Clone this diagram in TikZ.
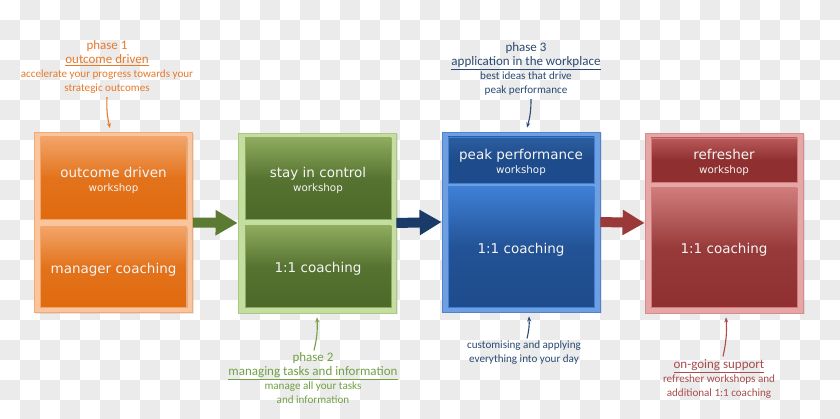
\documentclass[tikz,border=0pt]{standalone}
\usepackage{fontspec}
\setmainfont{DejaVu Sans}
\newfontfamily\calib{Carlito}
\usepackage{xcolor}
\usetikzlibrary{arrows.meta,shadows}
% colour sets: Frame / Edge / Top / Bot / Arrow / Text
\definecolor{orFrame}{HTML}{FAC59C}
\definecolor{orEdge}{HTML}{F2AA74}
\definecolor{orTop}{HTML}{F2A468}
\definecolor{orBot}{HTML}{E06A0E}
\definecolor{orText}{HTML}{E87A2C}
\definecolor{grFrame}{HTML}{C4DDA0}
\definecolor{grEdge}{HTML}{A9C983}
\definecolor{grTop}{HTML}{8EAB5E}
\definecolor{grBot}{HTML}{4D6929}
\definecolor{grArrow}{HTML}{5B7A32}
\definecolor{grText}{HTML}{72A046}
\definecolor{blFrame}{HTML}{6D9FE2}
\definecolor{blEdge}{HTML}{4F84CC}
\definecolor{blTop}{HTML}{3E80D6}
\definecolor{blBot}{HTML}{1E4B8B}
\definecolor{blHeadTop}{HTML}{2C5EA0}
\definecolor{blArrow}{HTML}{1A3A68}
\definecolor{blText}{HTML}{2A4A72}
\definecolor{rdFrame}{HTML}{E6A6A6}
\definecolor{rdEdge}{HTML}{D48C8C}
\definecolor{rdTop}{HTML}{D07C7C}
\definecolor{rdBot}{HTML}{8F2F2F}
\definecolor{rdHeadTop}{HTML}{BA5A5A}
\definecolor{rdArrow}{HTML}{9B3838}
\definecolor{rdText}{HTML}{A84C4C}
\definecolor{chk}{HTML}{EBEBEB}
\newcommand{\wkline}{{\fontsize{10.3}{12}\selectfont workshop}}
\newcommand{\headline}[1]{{\fontsize{13}{14}\selectfont #1}}
\newcommand{\lift}{\rule{0pt}{15pt}}

\begin{document}
\begin{tikzpicture}[x=1pt,y=-1pt,
  frame/.style={draw=#1Edge,fill=#1Frame,line width=0.8pt,minimum width=158pt,
                minimum height=180pt,inner sep=0pt,
                drop shadow={opacity=0.18,shadow xshift=1.5pt,shadow yshift=-1.5pt}},
  panel/.style={draw=#1Top,line width=0.4pt,top color=#1Top,bottom color=#1Bot,
                middle color=#1Bot!85!#1Top,minimum width=146pt,inner sep=0pt,
                text=white!96!black,align=center,font=\fontsize{13.5}{14}\selectfont,
                drop shadow={opacity=0.3,shadow xshift=1.2pt,shadow yshift=-1.2pt}},
  note/.style={align=center,inner sep=0pt,anchor=north,
               font=\calib\fontsize{11.1}{13.8}\selectfont},
  flow/.style={line width=10pt,-{Triangle[width=24pt,length=22pt]}},
  pin/.style={line width=1.1pt,-{Stealth[length=5pt,width=4pt]}}
]
\useasboundingbox (0,0) rectangle (840,419);
% checkered background
\fill[white] (0,0) rectangle (840,419);
\begin{scope}
  \clip (0,0) rectangle (840,419);
  \foreach \i in {0,2,...,40}
    \foreach \j in {0,2,...,20} {
      \fill[chk] (\i*20+20,\j*20) rectangle +(20,20);
      \fill[chk] (\i*20,\j*20+20) rectangle +(20,20);
    }
\end{scope}

% phase frames
\node[frame=or] (f1) at (113.5,222.5) {};
\node[frame=gr] (f2) at (317,223) {};
\node[frame=bl] (f3) at (521,222) {};
\node[frame=rd] (f4) at (724,223) {};

% panels
\node[panel=or,minimum height=82pt] (w1) at (113.5,178) {\lift outcome driven\\ \wkline};
\node[panel=or,minimum height=80pt] (c1) at (113.5,267) {\lift manager coaching};
\node[panel=gr,minimum height=81pt] (w2) at (318,178.5) {\lift stay in control\\ \wkline};
\node[panel=gr,minimum height=81pt] (c2) at (318,266.5) {\lift 1:1 coaching};
\node[panel=bl,top color=blHeadTop,middle color=blBot,minimum height=46pt]
  (w3) at (521,160) {\lift peak performance\\ \wkline};
\node[panel=bl,minimum height=120pt] (c3) at (521,247) {\lift 1:1 coaching};
\node[panel=rd,top color=rdHeadTop,middle color=rdBot,minimum height=44pt]
  (w4) at (724,160) {\lift refresher\\ \wkline};
\node[panel=rd,minimum height=119pt] (c4) at (724,247.5) {\lift 1:1 coaching};

% flow arrows
\draw[flow,grArrow] (f1.east) -- (f2.west);
\draw[flow,blArrow] (f2.east) -- (f3.west);
\draw[flow,rdArrow] (f3.east) -- (f4.west);

% notes
\node[note,text=orText] (a1) at (107,40.5) {\headline{phase 1}\\
  \headline{\underline{outcome driven}}\\ accelerate your progress towards your\\
  strategic outcomes};
\node[note,text=blText] (a3) at (526,42.5) {\headline{phase 3}\\
  \headline{\underline{application in the workplace}}\\ best ideas that drive\\
  peak performance};
\node[note,text=grText] (a2) at (313,352.5) {\headline{phase 2}\\
  \headline{\underline{managing tasks and information}}\\ manage all your tasks\\
  and information};
\node[note,text=blText] (b3) at (524,340.5) {customising and applying\\
  everything into your day};
\node[note,text=rdText] (a4) at (719,359.5) {\headline{\underline{on-going support}}\\
  refresher workshops and\\ additional 1:1 coaching};

\draw[pin,orText] ([yshift=-4pt]a1.south) to[bend right=8] ([xshift=-3.5pt,yshift=4pt]f1.north);
\draw[pin,blText] ([xshift=5pt,yshift=-4pt]a3.south) to[bend left=8] ([xshift=6pt,yshift=4pt]f3.north);
\draw[pin,grText] ([xshift=1pt,yshift=2pt]a2.north) to[bend right=8] ([yshift=-4pt]f2.south);
\draw[pin,blText] ([xshift=3pt,yshift=2pt]b3.north) to[bend right=8] ([xshift=8pt,yshift=-4pt]f3.south);
\draw[pin,rdText] ([xshift=4pt,yshift=3pt]a4.north) to[bend right=8] ([xshift=2pt,yshift=-4pt]f4.south);
\end{tikzpicture}
\end{document}
